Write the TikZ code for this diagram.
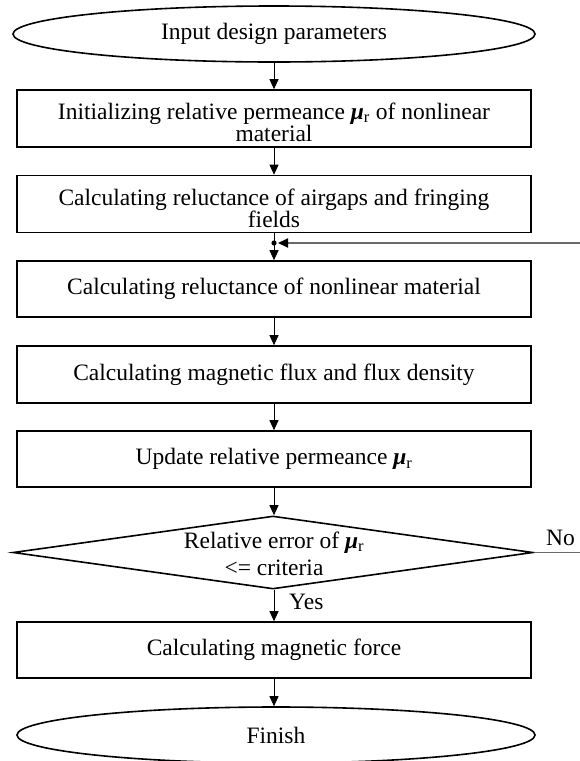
\documentclass[tikz,border=0pt]{standalone}
\usepackage{fontspec}
\setmainfont{Liberation Serif}
\usetikzlibrary{arrows.meta,shapes.geometric}
\newcommand{\mur}{{\bfseries\itshape μ}\textsubscript{r}}
\definecolor{fbgray}{RGB}{105,105,105}
\begin{document}
\begin{tikzpicture}[x=1pt,y=-1pt,
  font=\fontsize{23.5}{21}\selectfont,
  box/.style={draw,line width=1.6pt,minimum width=514pt,minimum height=57pt,inner sep=0pt,align=center},
  term/.style={draw,ellipse,line width=1.6pt,minimum width=522pt,minimum height=56pt,inner sep=0pt},
  dec/.style={draw,diamond,line width=1.6pt,minimum width=520pt,minimum height=73pt,inner sep=0pt},
  arr/.style={line width=0.9pt,-{Triangle[length=10pt,width=9pt]}},
  fb/.style={line width=1.8pt,draw=fbgray}
]
\useasboundingbox (0,0) rectangle (580,761);

\node[term] (start) at (274,34) {Input design parameters};
\node[box] (b1) at (274,118.5) {\rule{0pt}{24pt}Initializing relative permeance \mur{} of nonlinear\\material};
\node[box] (b2) at (274,204) {\rule{0pt}{25pt}Calculating reluctance of airgaps and fringing\\fields};
\coordinate (j) at (274,243);
\node[box,minimum height=56pt] (b3) at (274,289) {Calculating reluctance of nonlinear material};
\node[box] (b4) at (274,374.5) {Calculating magnetic flux and flux density};
\node[box,minimum height=56pt] (b5) at (274,459) {Update relative permeance \mur};
\node[dec] (dec) at (273,552.5) {};
\node[align=center,inner sep=0pt] (dect) at (274,553.5) {Relative error of \mur\\[6pt]<= criteria};
\node[box,minimum height=56pt] (b6) at (274,650) {Calculating magnetic force};
\node[term,minimum width=518pt] (finish) at (276,735) {Finish};

\node[anchor=base west,inner sep=0pt] (no) at (546,545) {No};
\node[anchor=west,inner sep=0pt] (yes) at (289,602) {Yes};

\coordinate (r1) at (580,552.5);
\coordinate (r2) at (580,243);

\draw[arr] (start.south) -- (b1.north);
\draw[arr] (b1.south) -- (b2.north);
\draw[line width=0.9pt] (b2.south) -- (j);
\draw[arr] (j) -- (b3.north);
\fill (j) circle (2.6pt);
\draw[arr] (b3.south) -- (b4.north);
\draw[arr] (b4.south) -- (b5.north);
\draw[arr] (b5.south) -- (dec.north -| b5.south);
\draw[arr] (dec.south -| b6.north) -- (b6.north);
\draw[arr] (b6.south) -- (finish.north -| b6.south);

\draw[fb] (dec.east) -- (r1);
\draw[fb,-{Triangle[length=10pt,width=9pt,color=black]},shorten >=4pt] (r2) -- (j);
\end{tikzpicture}
\end{document}
